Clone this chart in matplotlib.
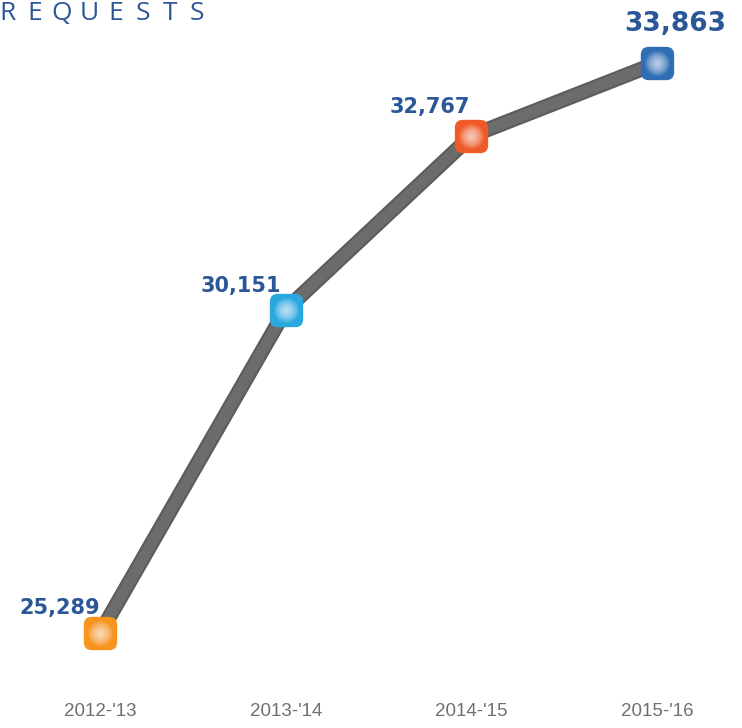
import matplotlib.pyplot as plt
from matplotlib.patches import FancyBboxPatch
from matplotlib.path import Path
import numpy as np

years = ["2012-'13", "2013-'14", "2014-'15", "2015-'16"]
requests = [25289, 30151, 32767, 33863]
marker_colors = ["#f7941d", "#29a8e0", "#f05a28", "#2f6db5"]


def rounded_square():
    box = FancyBboxPatch((-0.5, -0.5), 1, 1, boxstyle="round,pad=0,rounding_size=0.24")
    p = box.get_path()
    return Path(p.vertices, p.codes)


def plot_requests(axe, labels, values):
    x = np.arange(len(values))
    axe.plot(x, values, color="#5c5c5c", linewidth=11, solid_capstyle="round", zorder=1)
    axe.plot(x, values, color="#6c6c6c", linewidth=8, solid_capstyle="round", zorder=1)
    marker = rounded_square()
    for i, v in enumerate(values):
        axe.plot(x[i], v, marker=marker, markersize=24, color=marker_colors[i],
                 markeredgewidth=0, zorder=2)
        # soft highlight in the middle of each marker
        for ms in np.arange(18, 1, -1.5):
            axe.plot(x[i], v, marker="o", markersize=ms, color="white", alpha=0.09,
                     markeredgewidth=0, zorder=3)
    offsets = [(-29, 18), (-32, 17), (-30, 21), (13, 28)]  # points
    sizes = [15, 15, 15, 19]
    for i, v in enumerate(values):
        axe.annotate("{:,d}".format(v), (x[i], v), xytext=offsets[i],
                     textcoords="offset points", ha="center", va="center",
                     fontsize=sizes[i], fontweight="bold", color="#2b5797",
                     family="DejaVu Sans")
    for i, lab in enumerate(labels):
        axe.text(x[i], 0.022, lab, transform=axe.get_xaxis_transform(),
                 ha="center", va="center", fontsize=13.5, color="#707070",
                 family=["Liberation Sans", "DejaVu Sans"])
    axe.set_xlim(-0.5385, 3.457)
    axe.set_ylim(23863, 34810)
    axe.axis("off")


if __name__ == "__main__":
    fig = plt.figure(figsize=(7.42, 7.28), dpi=100)
    ax = fig.add_axes([0, 0, 1, 1])
    plot_requests(ax, years, requests)
    for i, ch in enumerate("REQUESTS"):
        fig.text((8 + 27 * i) / 742, 1 - 1 / 728, ch, ha="center", va="top",
                 fontsize=19, color="#2b5797", family=["Open Sans", "DejaVu Sans"])
    fig.savefig("out.png", dpi=100)
